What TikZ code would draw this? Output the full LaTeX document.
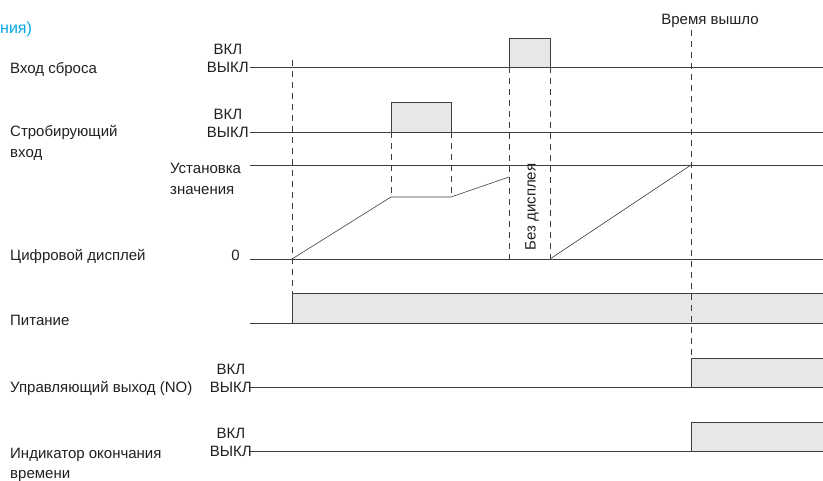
\documentclass[tikz,border=0pt]{standalone}
\usepackage{fontspec}
\setmainfont{Liberation Sans}
\usetikzlibrary{positioning}

\definecolor{sigline}{RGB}{62,62,62}
\definecolor{sigfill}{RGB}{230,231,232}
\definecolor{txtgray}{RGB}{35,31,32}
\definecolor{titleblue}{RGB}{0,168,230}
\newcommand{\lblsize}{\fontsize{15}{18}\selectfont}

\begin{document}
\begin{tikzpicture}[x=1pt,y=-1pt,
    sig/.style={draw=sigline, line width=0.8pt},
    pulse/.style={sig, fill=sigfill},
    guide/.style={draw=sigline, line width=0.6pt, dash pattern=on 6pt off 5pt},
    lbl/.style={font=\lblsize, text=txtgray, inner sep=0pt}]
    \useasboundingbox (0,0) rectangle (823,481);

    % Title (cut off at the left)
    \node[lbl, text=titleblue, font=\fontsize{16}{20}\selectfont, anchor=base west] (title) at (0,34) {ния)};

    % Row names
    \node[lbl, anchor=base west] (nrst) at (10,74) {Вход сброса};
    \node[lbl, anchor=base west] (nstrb) at (10,137) {Стробирующий};
    \node[lbl, anchor=base west] (nstrb2) at (10,158) {вход};
    \node[lbl, anchor=base west] (ndisp) at (10,261) {Цифровой дисплей};
    \node[lbl, anchor=base west] (npow) at (10,326) {Питание};
    \node[lbl, anchor=base west] (nctl) at (10,392) {Управляющий выход (NO)};
    \node[lbl, anchor=base west] (ntout) at (10,458) {Индикатор окончания};
    \node[lbl, anchor=base west] (ntout2) at (10,478) {времени};

    % Level marks
    \foreach \n/\y/\x in {rst/67/249, strb/132/249, ctl/387/252, tout/451/252} {
        \node[lbl, anchor=base east] (off\n) at (\x,\y+5.5) {ВЫКЛ};
        \node[lbl, anchor=base] (on\n) at ([yshift=18pt]off\n.base) {ВКЛ};
    }
    \node[lbl, anchor=base west] (setv) at (170,174) {Установка};
    \node[lbl, anchor=base west] (setv2) at (170,195) {значения};
    \node[lbl, anchor=base east] (zero) at (240,261) {0};
    \node[lbl, anchor=base] (timeup) at (710,25) {Время вышло};
    \node[lbl, rotate=90] (nodisp) at (532,207) {Без дисплея};

    % Pulses
    \filldraw[pulse] (509,38) rectangle (550,67);
    \filldraw[pulse] (391,102) rectangle (451,132);
    \fill[sigfill] (292,293) rectangle (823,323);
    \filldraw[pulse] (691,358) rectangle (830,387);
    \filldraw[pulse] (691,422) rectangle (830,451);

    % Base lines
    \foreach \y in {67,132,165,259,387,451}
        \draw[sig] (250,\y) -- (823,\y);
    \draw[sig] (250,323) -- (292,323) -- (292,293) -- (823,293);
    \draw[sig] (292,323) -- (823,323);

    % Display value
    \draw[sig, line width=0.6pt] (292,259) -- (391,197) -- (451,197) -- (509,177);
    \draw[sig, line width=0.6pt] (550,259) -- (691,165);

    % Guides
    \draw[guide] (292,60) -- (292,293);
    \foreach \x in {391,451} \draw[guide] (\x,132) -- (\x,197);
    \foreach \x in {509,550} \draw[guide] (\x,67) -- (\x,259);
    \draw[guide] (691,30) -- (691,358);
\end{tikzpicture}
\end{document}
